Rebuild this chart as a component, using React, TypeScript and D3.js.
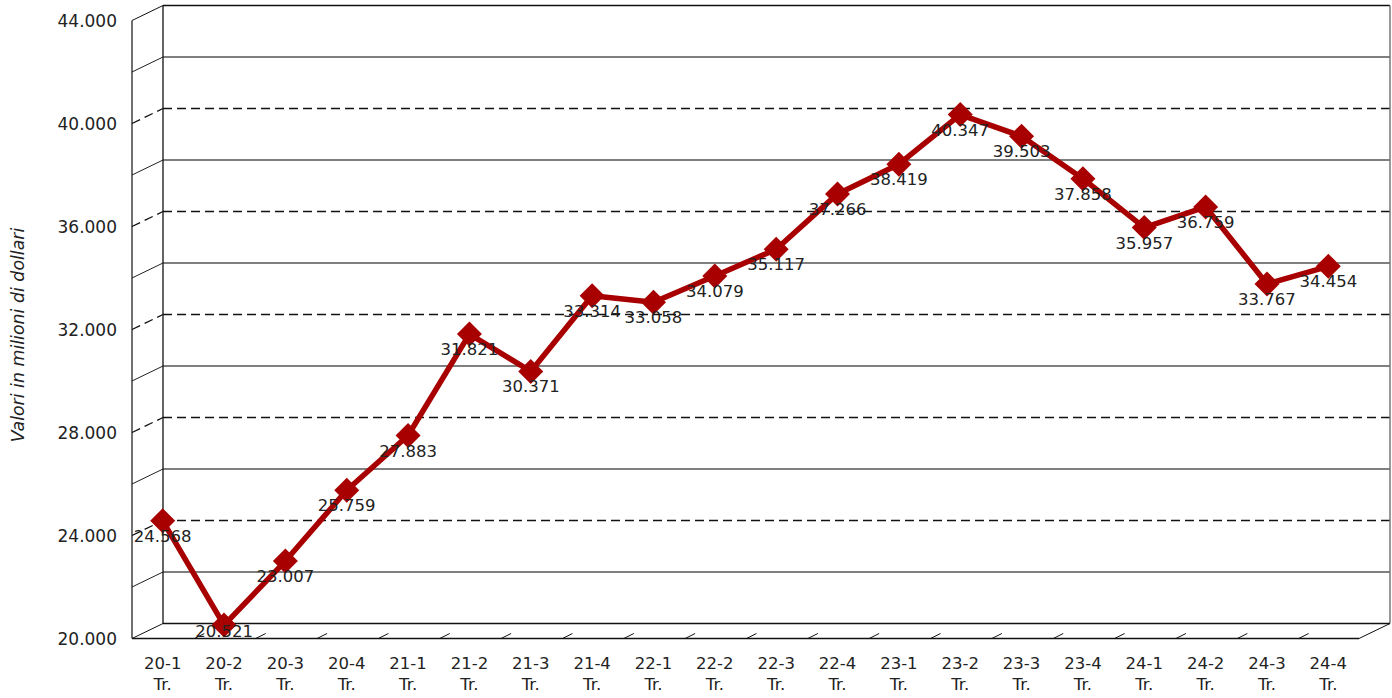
import React from "react";
import * as d3 from "d3";

const categories = ["20-1","20-2","20-3","20-4","21-1","21-2","21-3","21-4","22-1","22-2","22-3","22-4","23-1","23-2","23-3","23-4","24-1","24-2","24-3","24-4"];
const values = [24568,20521,23007,25759,27883,31821,30371,33314,33058,34079,35117,37266,38419,40347,39503,37858,35957,36759,33767,34454];
const majorTicks = [20000,24000,28000,32000,36000,40000,44000];
const minorTicks = [22000,26000,30000,34000,38000,42000];
const yTitle = "Valori in milioni di dollari";
const catSuffix = "Tr.";

const W = 1392, H = 698;
const FONT = "Verdana, 'DejaVu Sans', sans-serif";
const DX = 31, DY = -15;
const RED = "#A80000";

export default function App() {
  const x = d3.scaleBand<string>().domain(categories).range([132, 1359]).paddingInner(0).paddingOuter(0);
  const y = d3.scaleLinear().domain([20000, 44000]).range([638.5, 20.5]);
  const cx = (c: string) => (x(c) as number) + x.bandwidth() / 2;
  const fmt = (v: number) => d3.format(",")(v).replace(/,/g, ".");
  const line = d3.line<number>().x((_, i) => cx(categories[i])).y((d) => y(d));
  const x0 = 132, x1 = 1359;
  const boundaries = d3.range(1, categories.length).map((i) => x0 + i * x.bandwidth());

  return (
    <svg width={W} height={H} style={{ position: "absolute", left: 0, top: 0, background: "#fff" }} fontFamily={FONT}>
      <rect width={W} height={H} fill="#fff" />
      {minorTicks.map((t) => (
        <g key={"mi" + t}>
          <line x1={x0 + DX} x2={x1 + DX} y1={y(t) + DY} y2={y(t) + DY} stroke="#555" strokeWidth={1.4} />
          <line x1={x0} x2={x0 + DX} y1={y(t)} y2={y(t) + DY} stroke="#222" strokeWidth={1} />
        </g>
      ))}
      {majorTicks.filter((t) => t !== 20000 && t !== 44000).map((t) => (
        <g key={"ma" + t}>
          <line x1={x0 + DX} x2={x1 + DX} y1={y(t) + DY} y2={y(t) + DY} stroke="#111" strokeWidth={1.6} strokeDasharray="9,5" />
          <line x1={x0} x2={x0 + DX} y1={y(t)} y2={y(t) + DY} stroke="#111" strokeWidth={1.3} strokeDasharray="9,5" />
        </g>
      ))}
      <line x1={x0 + DX} x2={x1 + DX} y1={y(44000) + DY} y2={y(44000) + DY} stroke="#111" strokeWidth={1.3} />
      <line x1={x0} x2={x0 + DX} y1={y(44000)} y2={y(44000) + DY} stroke="#111" />
      <line x1={x0 + DX} x2={x0 + DX} y1={y(44000) + DY} y2={y(20000) + DY} stroke="#111" strokeWidth={1.3} />
      <line x1={x1 + DX} x2={x1 + DX} y1={y(44000) + DY} y2={y(20000) + DY} stroke="#777" strokeWidth={1.5} />
      <line x1={x0 + DX} x2={x1 + DX} y1={y(20000) + DY} y2={y(20000) + DY} stroke="#111" strokeWidth={1.3} />
      <line x1={x0} x2={x1} y1={y(20000)} y2={y(20000)} stroke="#111" strokeWidth={1.3} />
      <line x1={x0} x2={x0 + DX} y1={y(20000)} y2={y(20000) + DY} stroke="#111" />
      <line x1={x1} x2={x1 + DX} y1={y(20000)} y2={y(20000) + DY} stroke="#111" />
      {boundaries.map((b, i) => (
        <line key={"b" + i} x1={b + 1} x2={b + 11} y1={y(20000)} y2={y(20000) - 5} stroke="#111" />
      ))}
      <line x1={x0} x2={x0} y1={y(44000)} y2={y(20000)} stroke="#111" strokeWidth={1.2} />
      {majorTicks.map((t) => (
        <text key={"tl" + t} x={117} y={y(t) + 6} textAnchor="end" fontSize={17} fill="#222">{fmt(t)}</text>
      ))}
      <text transform={`translate(24,335) rotate(-90)`} textAnchor="middle" fontSize={17.4} fontStyle="italic" fill="#222">{yTitle}</text>
      {categories.map((c) => (
        <text key={"c" + c} x={cx(c)} y={669} textAnchor="middle" fontSize={16.5} fill="#222">
          <tspan x={cx(c)}>{c}</tspan>
          <tspan x={cx(c)} dy={21}>{catSuffix}</tspan>
        </text>
      ))}
      <path d={line(values) as string} fill="none" stroke={RED} strokeWidth={5.5} strokeLinejoin="round" />
      {values.map((v, i) => {
        const px = cx(categories[i]), py = y(v);
        const r = 12.5;
        return (
          <path key={"m" + i} d={`M${px},${py - r}L${px + r},${py}L${px},${py + r}L${px - r},${py}Z`} fill={RED} />
        );
      })}
      {values.map((v, i) => (
        <text key={"l" + i} x={cx(categories[i])} y={Math.min(y(v) + 21, y(20000) - 1.5)} textAnchor="middle" fontSize={16.5} fill="#222">{fmt(v)}</text>
      ))}
    </svg>
  );
}
